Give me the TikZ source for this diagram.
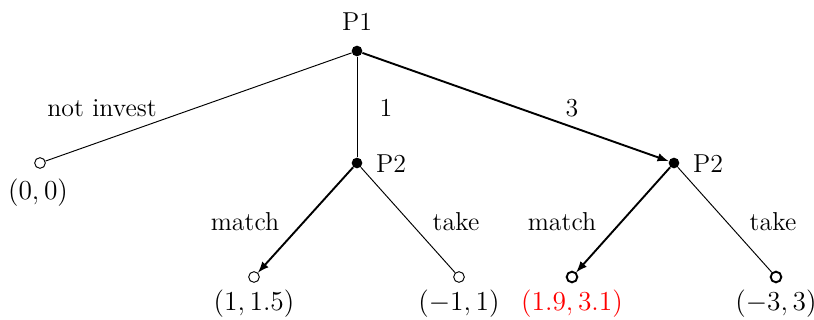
\documentclass[tikz,border=0pt]{standalone}
\begin{document}
\begin{tikzpicture}[x=0.525pt,y=-0.525pt,
  every node/.style={font=\fontsize{13.6}{16}\selectfont},
  dec/.style={circle,fill=black,inner sep=0pt,minimum size=5.6pt},
  leaf/.style={circle,draw=black,fill=white,inner sep=0pt,minimum size=5.6pt,line width=0.5pt},
  leafb/.style={leaf,line width=1pt},
  thin/.style={line width=0.5pt},
  bold/.style={line width=1pt,-latex},
  lbl/.style={inner sep=0pt}]
\useasboundingbox (0,0) rectangle (814,320);
\node[dec] (p1) at (357,51) {};
\node[dec] (p2a) at (357,163) {};
\node[dec] (p2b) at (674,163) {};
\node[leaf] (l0) at (40,163) {};
\node[leaf] (l1) at (254,277) {};
\node[leaf] (l2) at (459,277) {};
\node[leafb] (l3) at (572,277) {};
\node[leafb] (l4) at (776,277) {};
\draw[thin] (p1) -- (l0);
\draw[thin] (p1) -- (p2a);
\draw[bold] (p1) -- (p2b);
\draw[bold] (p2a) -- (l1);
\draw[thin] (p2a) -- (l2);
\draw[bold] (p2b) -- (l3);
\draw[thin] (p2b) -- (l4);
\node[lbl] (t1) at (357,22) {P1};
\node[lbl] (t2) at (391,164) {P2};
\node[lbl] (t3) at (708,164) {P2};
\node[lbl] (t4) at (102,108) {not invest};
\node[lbl] (t5) at (386,108) {1};
\node[lbl] (t6) at (572,108) {3};
\node[lbl] (t7) at (245,222) {match};
\node[lbl] (t8) at (456,222) {take};
\node[lbl] (t9) at (562,222) {match};
\node[lbl] (t10) at (773,222) {take};
\node[lbl] (v0) at (38,193) {$(0,0)$};
\node[lbl] (v1) at (254,304) {$(1,1.5)$};
\node[lbl] (v2) at (459,304) {$(-1,1)$};
\node[lbl,text=red] (v3) at (572,304) {$(1.9,3.1)$};
\node[lbl] (v4) at (776,304) {$(-3,3)$};
\end{tikzpicture}
\end{document}
